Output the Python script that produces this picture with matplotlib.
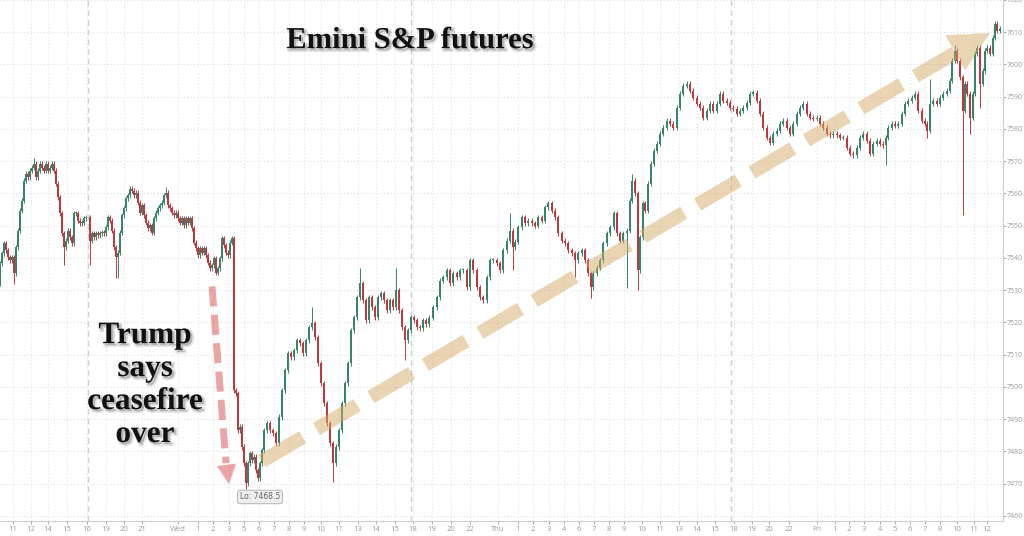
import numpy as np
import matplotlib.pyplot as plt
import matplotlib.patheffects as pe

# barras (posição no eixo de tempo comprimido) e fechamentos
t_a = [0, 2, 4, 6, 8, 10, 12, 14, 16, 18, 20, 22, 24, 26, 28, 30, 32, 34, 36, 38,
       40, 42, 44, 46, 48, 50, 52, 54, 56, 58, 60, 62, 64, 66, 68, 70, 72, 74, 76, 78,
       80, 82, 84, 86, 90, 92, 94, 96, 98, 100, 102, 104, 106, 108, 110, 112, 114, 116, 118, 120,
       122, 124, 126, 128, 130, 132, 134, 136, 138, 140, 142, 144, 146, 148, 150, 152, 154, 156, 158, 160,
       162, 164, 166, 168, 170, 172, 174, 176, 178, 180, 182, 184, 186, 188, 190, 192, 194, 196, 198, 200,
       202, 204, 206, 208, 210, 212, 214, 216, 218, 220, 222, 224, 226, 228, 230, 232]
close_a = [7538.3, 7541.4, 7544.5, 7542.4, 7540.2, 7539.3, 7540.2, 7535.2, 7543.3, 7548.5,
           7554.7, 7557.8, 7564.0, 7566.2, 7565.0, 7567.1, 7568.0, 7569.3, 7565.0, 7567.1,
           7569.3, 7568.0, 7567.1, 7569.3, 7567.1, 7568.0, 7569.3, 7567.1, 7563.1, 7558.8,
           7553.8, 7547.6, 7543.3, 7545.4, 7548.5, 7546.4, 7544.5, 7553.8, 7553.8, 7551.6,
           7550.7, 7551.0, 7552.3, 7552.6, 7545.4, 7547.6, 7546.4, 7547.6, 7547.0, 7547.6,
           7547.9, 7547.6, 7549.5, 7552.6, 7551.6, 7548.5, 7543.3, 7540.2, 7541.7, 7547.9,
           7553.2, 7555.4, 7558.5, 7559.4, 7561.5, 7560.9, 7559.4, 7560.3, 7557.2, 7554.1,
           7556.3, 7553.2, 7551.0, 7549.2, 7550.1, 7547.9, 7552.3, 7554.1, 7555.4, 7556.3,
           7557.2, 7559.4, 7560.3, 7556.3, 7555.4, 7554.1, 7553.2, 7554.1, 7552.3, 7551.0,
           7552.3, 7550.1, 7552.3, 7551.0, 7552.3, 7549.2, 7544.8, 7543.0, 7540.8, 7543.0,
           7541.7, 7543.0, 7540.8, 7538.6, 7536.8, 7537.7, 7539.9, 7535.5, 7536.8, 7539.9,
           7546.1, 7543.9, 7541.7, 7540.8, 7544.8, 7546.1]

t_b = [234, 236, 238, 240, 242, 244, 246, 248, 250, 252, 254, 256, 258, 260, 262, 264, 267, 270, 273, 276,
       279, 282, 285, 288, 291, 294, 297, 300, 303, 306, 309, 312, 315, 318, 321, 324, 327, 330, 333, 336,
       339, 342, 345, 348, 351, 354, 357, 360, 363, 366, 369, 372, 375, 378, 381, 384, 387, 390, 393, 396,
       399, 402, 405, 408, 411, 414, 417, 420, 423]
close_b = [7499.0, 7498.0, 7486.6, 7487.6, 7481.4, 7476.4, 7470.2, 7476.4, 7479.5, 7477.3,
           7478.3, 7474.2, 7471.8, 7476.4, 7480.4, 7486.6, 7488.8, 7486.6, 7485.7, 7482.6,
           7490.7, 7499.0, 7505.2, 7510.5, 7509.2, 7511.4, 7514.5, 7513.6, 7510.5, 7514.5,
           7518.5, 7519.8, 7515.4, 7507.4, 7501.2, 7495.0, 7488.8, 7482.6, 7476.4, 7481.4,
           7486.6, 7495.0, 7501.2, 7507.4, 7517.6, 7521.6, 7527.8, 7532.1, 7526.9, 7520.7,
           7527.8, 7524.7, 7521.6, 7527.8, 7529.0, 7526.9, 7523.8, 7526.9, 7524.7, 7530.0,
           7523.8, 7518.5, 7514.5, 7517.6, 7521.6, 7520.7, 7518.5, 7518.2, 7520.7]

t_c = [426, 429, 433, 437, 440, 443, 447, 450, 453, 457, 460, 463, 467, 470, 473, 477, 480, 483, 487, 490,
       493, 497, 500, 503, 507, 510, 513, 515, 518, 522, 525, 528, 532, 535, 538, 542, 545, 548, 552, 555,
       558, 562, 565, 568, 572, 575, 578, 582, 585, 588, 591, 593, 597, 600, 603, 607, 610, 614, 617, 620,
       623, 627, 630, 632, 635, 638, 640, 643, 645]
close_c = [7519.5, 7521.5, 7524.7, 7527.8, 7533.0, 7534.0, 7536.2, 7532.1, 7535.2, 7534.0,
           7536.2, 7536.2, 7530.9, 7539.3, 7536.2, 7530.9, 7527.8, 7526.9, 7534.0, 7539.3,
           7539.3, 7538.3, 7536.2, 7542.4, 7545.4, 7548.5, 7543.3, 7545.0, 7549.5, 7552.6,
           7550.7, 7551.6, 7550.7, 7550.0, 7552.6, 7551.6, 7555.7, 7556.9, 7554.7, 7552.6,
           7547.6, 7545.4, 7544.5, 7542.4, 7541.4, 7539.3, 7541.4, 7542.4, 7539.3, 7535.2,
           7530.9, 7535.2, 7537.0, 7539.3, 7544.5, 7547.6, 7549.5, 7553.8, 7547.6, 7545.4,
           7547.6, 7548.5, 7557.8, 7564.0, 7560.0, 7536.2, 7546.4, 7556.9, 7554.7]

t_d = [648, 651, 654, 657, 660, 663, 667, 670, 673, 677, 680, 683, 687, 690, 693, 697, 700, 703, 707, 710,
       713, 717, 720, 723, 727, 730, 733, 737, 740, 743, 747, 750, 753, 757, 760, 763, 767, 770, 773, 777,
       780, 783, 787, 790, 793, 797, 800, 803, 807, 810, 813, 817, 820, 823, 827, 830, 833, 837, 840, 843,
       847, 850, 853, 857, 860, 863, 867, 870, 873, 877, 880, 883, 886, 888, 892, 895, 898, 902, 905, 908,
       912, 915, 918, 922, 925, 927, 930, 933, 937, 940, 943, 947, 950, 952, 955, 957, 960, 963, 965, 967,
       970, 973, 975, 977, 980, 983, 985, 987, 990, 993, 995, 997, 1000]
close_d = [7563.0, 7569.3, 7573.3, 7575.5, 7578.6, 7580.4, 7582.6, 7581.7, 7580.4, 7586.6,
           7591.0, 7593.4, 7594.0, 7591.9, 7589.7, 7587.9, 7586.6, 7583.5, 7585.7, 7587.9,
           7585.7, 7587.9, 7591.0, 7588.8, 7588.2, 7586.6, 7586.3, 7584.8, 7585.7, 7586.6,
           7588.2, 7591.0, 7591.3, 7588.8, 7584.8, 7580.4, 7577.3, 7575.8, 7578.6, 7579.5,
           7581.7, 7582.6, 7580.4, 7578.6, 7581.7, 7584.8, 7586.6, 7587.9, 7584.8, 7583.5,
           7583.2, 7583.5, 7581.7, 7580.4, 7578.6, 7578.0, 7578.6, 7578.0, 7577.3, 7577.3,
           7574.2, 7572.4, 7571.8, 7574.2, 7577.3, 7578.6, 7576.4, 7572.4, 7575.5, 7576.4,
           7575.5, 7574.9, 7577.3, 7580.4, 7581.7, 7581.0, 7581.7, 7584.8, 7587.9, 7588.8,
           7589.7, 7591.0, 7585.7, 7582.6, 7581.7, 7579.5, 7587.9, 7588.8, 7587.9, 7589.7,
           7591.0, 7591.9, 7595.0, 7601.2, 7604.3, 7601.2, 7596.0, 7585.7, 7594.0, 7591.0,
           7583.5, 7591.0, 7603.3, 7605.2, 7594.0, 7598.0, 7604.3, 7605.2, 7603.3, 7608.3,
           7612.6, 7610.5, 7611.0]

first_open = 7532.0

# pavios longos (barra -> preço)
low_spikes = {14: 7532.0, 64: 7537.7, 90: 7537.7, 116: 7533.7, 118: 7533.7, 246: 7468.5,
              333: 7470.5, 405: 7508.3, 513: 7536.2, 575: 7534.0, 591: 7527.5, 627: 7530.6,
              638: 7530.0, 886: 7568.7, 927: 7577.3, 963: 7553.2, 970: 7578.6, 980: 7586.6}
high_spikes = {34: 7571.1, 166: 7562.0, 312: 7524.7, 360: 7536.8, 396: 7536.8, 510: 7553.8,
               632: 7566.0, 930: 7595.6, 955: 7606.0}

tick_pos = [13, 31, 48, 67, 87, 106, 124, 142,
            178, 198, 213, 229, 244, 259, 274, 289, 304, 321, 339, 358, 376, 395, 413, 432, 451, 470,
            498, 518, 533, 549, 564, 579, 594, 609, 624, 642, 660, 679, 697, 715, 734, 752, 769, 789,
            817, 835, 849, 864, 880, 895, 910, 925, 940, 957, 974, 987]
tick_lab = ['11', '12', '14', '15', '16', '19', '20', '21',
            'Wed', '1', '2', '3', '5', '6', '7', '8', '9', '10', '11', '13', '14', '15', '18', '19', '20', '22',
            'Thu', '1', '2', '3', '4', '6', '7', '8', '9', '10', '11', '13', '14', '15', '18', '19', '20', '22',
            'Fri', '1', '2', '3', '4', '5', '6', '7', '8', '10', '11', '12']
session_starts = [88, 411, 731]
y_ticks = list(range(7460, 7621, 10))
low_value = 7468.5

# monta os candles
t = np.array(t_a + t_b + t_c + t_d, dtype=float)
c = np.array(close_a + close_b + close_c + close_d)
o = np.concatenate([[first_open], c[:-1]])
hi = np.maximum(o, c) + 0.8
lo = np.minimum(o, c) - 0.8
for k, v in low_spikes.items():
    lo[t == k] = v
for k, v in high_spikes.items():
    hi[t == k] = v

gap = np.diff(t, append=t[-1] + 3)
w = np.clip(gap, 2, 3.5) * 0.75
up = c >= o
cor = np.where(up, '#34866a', '#c0383e')

fig = plt.figure(figsize=(10.24, 5.36), dpi=100)
ax = fig.add_axes([0.0, 0.028, 0.9795, 0.972])

ax.vlines(t, lo, hi, colors=cor, linewidth=0.7, zorder=3)
ax.bar(t, np.maximum(np.abs(c - o), 0.35), bottom=np.minimum(o, c), width=w,
       color=cor, linewidth=0, zorder=3)

ax.set_xlim(0, 1003)
ax.set_ylim(7458.45, 7619.8)

# grade
for yv in y_ticks:
    ax.axhline(yv, color='#dcdcdc', linestyle=(0, (1, 2)), linewidth=0.8, zorder=0)
for xv in tick_pos:
    ax.axvline(xv, color='#e2e2e2', linestyle=(0, (1, 2)), linewidth=0.8, zorder=0)
for xv in session_starts:
    ax.axvline(xv, color='#cfcfcf', linestyle=(0, (4, 3)), linewidth=1.0, zorder=0)

ax.yaxis.tick_right()
ax.set_yticks(y_ticks)
ax.set_xticks(tick_pos)
ax.set_xticklabels(tick_lab)
ax.tick_params(axis='both', labelsize=5.5, colors='#9a9a9a', length=2, width=0.6, pad=1.5)
ax.tick_params(axis='y', labelsize=5, pad=1)
for lab in ax.get_xticklabels() + ax.get_yticklabels():
    lab.set_family('Open Sans')
for s in ['top', 'left']:
    ax.spines[s].set_visible(False)
for s in ['right', 'bottom']:
    ax.spines[s].set_color('#cccccc')
    ax.spines[s].set_linewidth(0.8)

# seta vermelha tracejada
ax.plot([212, 226], [7531.2, 7476.4], color='#d94c4c', alpha=0.5, linewidth=5,
        dashes=(2.9, 1.2), solid_capstyle='butt', zorder=5)
ax.annotate('', xy=(229, 7469.9), xytext=(226.3, 7476.4),
            arrowprops=dict(arrowstyle='-|>,head_length=0.7,head_width=0.35', color='#d94c4c',
                            alpha=0.5, lw=0, shrinkA=0, shrinkB=0, mutation_scale=20), zorder=5)

# seta bege tracejada
ax.plot([262, 955], [7477.0, 7603.6], color='#d4aa6a', alpha=0.5, linewidth=10,
        dashes=(3.4, 1.15), solid_capstyle='butt', zorder=5)
ax.annotate('', xy=(990, 7609.8), xytext=(955, 7603.6),
            arrowprops=dict(arrowstyle='-|>,head_length=1.44,head_width=0.72', color='#d4aa6a',
                            alpha=0.5, lw=0, shrinkA=0, shrinkB=0, mutation_scale=20), zorder=5)

sombra = [pe.Stroke(linewidth=2.5, foreground='#888888', alpha=0.25, offset=(1.5, -1.5)), pe.Normal()]

ax.text(410, 7607.4, 'Emini S&P futures', fontsize=22, fontweight='bold', family='Liberation Serif',
        ha='center', va='center', color='#111111', path_effects=sombra, zorder=6)
ax.text(145, 7500.6, 'Trump\nsays\nceasefire\nover', fontsize=22.5, fontweight='bold',
        family='Liberation Serif', ha='center', va='center', linespacing=1.18,
        color='#111111', path_effects=sombra, zorder=6)

ax.text(260, 7465.9, f'Lo: {low_value}', fontsize=5.5, color='#666666', ha='center', va='center',
        bbox=dict(boxstyle='round,pad=0.3', fc='#eeeeee', ec='#aaaaaa', lw=0.6), zorder=6)

fig.savefig('out.png', dpi=100)
